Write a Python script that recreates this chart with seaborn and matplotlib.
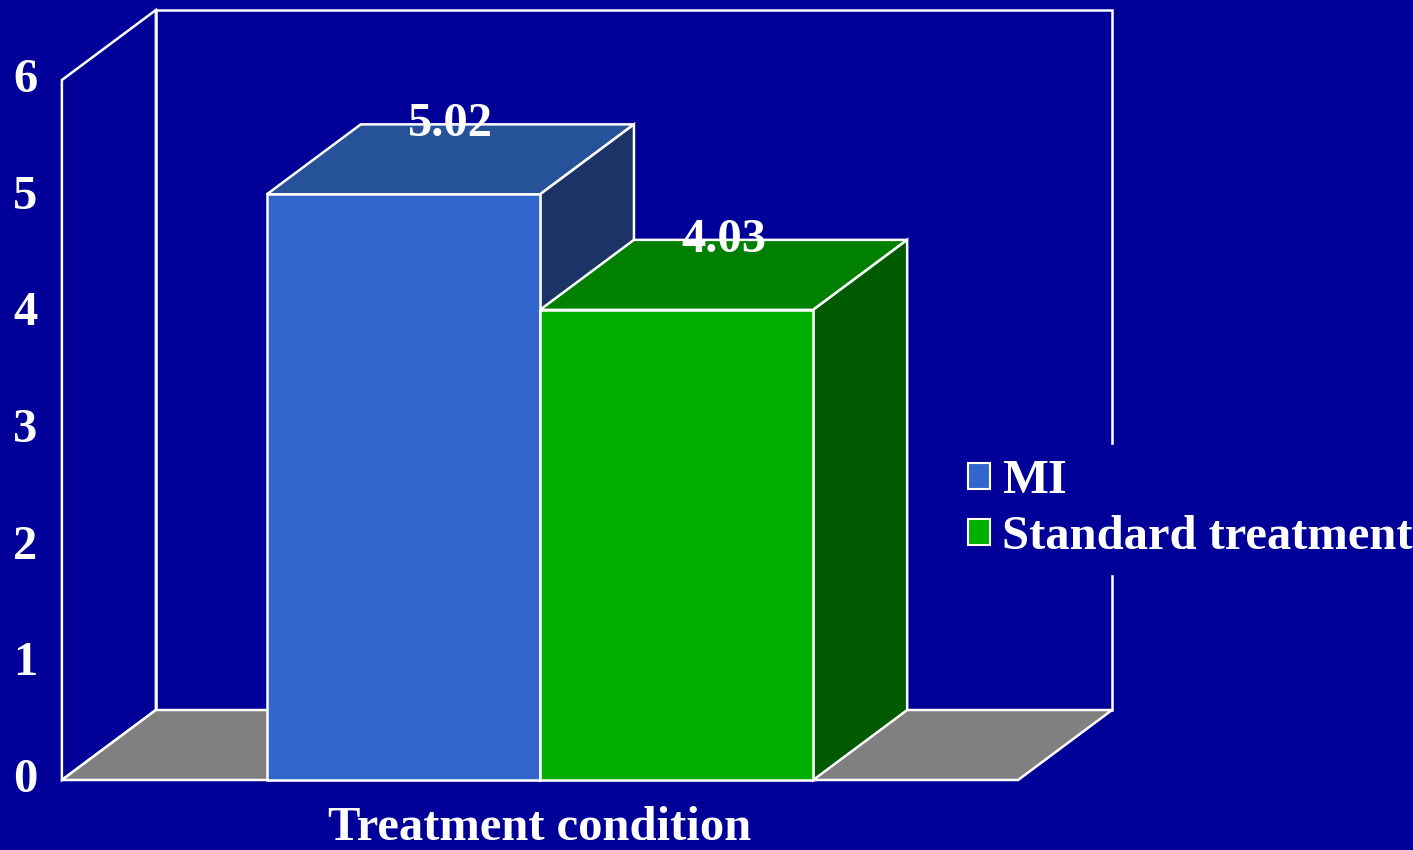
import pandas as pd
import matplotlib.pyplot as plt
import seaborn as sns
from matplotlib.patches import Polygon, Patch

# Data
condition = "Treatment condition"
groups = ["MI", "Standard treatment"]
values = [5.02, 4.03]
y_ticks = [0, 1, 2, 3, 4, 5, 6]

# Colours
bg = "#000099"
front_colors = ["#3366CC", "#00B000"]
top_colors = ["#26529A", "#008000"]
side_colors = ["#1B3366", "#005A00"]
floor_color = "#808080"

df = pd.DataFrame({"condition": [condition] * len(groups), "group": groups, "value": values})

sns.set_style("white")
plt.rcParams["font.family"] = ["Liberation Serif", "DejaVu Serif"]
plt.rcParams["font.weight"] = "bold"

fig = plt.figure(figsize=(14.13, 8.5), dpi=100, facecolor=bg)
ax = fig.add_axes([0, 0, 1, 1])
ax.set_facecolor(bg)

sns.barplot(data=df, x="condition", y="value", hue="group", palette=dict(zip(groups, front_colors)),
            saturation=1, errorbar=None, edgecolor="white", linewidth=1.8, legend=False, ax=ax)

ax.set_xlim(-0.7906, 1.2782)
ax.set_ylim(-0.6, 6.686)

# 3D depth offsets (data units)
dx, dy = 0.1376, 0.6
wall_l, wall_r = -0.7, 0.7
lw = 1.8

# -------------------------------
# Walls and floor
# -------------------------------
ax.add_patch(Polygon([(wall_l + dx, dy), (wall_r + dx, dy), (wall_r + dx, 6 + dy), (wall_l + dx, 6 + dy)],
                     closed=True, facecolor="none", edgecolor="white", lw=lw, zorder=0.5))
ax.add_patch(Polygon([(wall_l, 0), (wall_l, 6), (wall_l + dx, 6 + dy), (wall_l + dx, dy)],
                     closed=True, facecolor=bg, edgecolor="white", lw=lw, zorder=0.6))
ax.add_patch(Polygon([(wall_l, 0), (wall_r, 0), (wall_r + dx, dy), (wall_l + dx, dy)],
                     closed=True, facecolor=floor_color, edgecolor="white", lw=lw, zorder=0.7))

# -------------------------------
# Bars: top and side faces
# -------------------------------
for i, cont in enumerate(ax.containers):
    for bar in cont:
        x0, w, h = bar.get_x(), bar.get_width(), bar.get_height()
        z = 3 + i
        bar.set_zorder(z + 0.2)
        ax.add_patch(Polygon([(x0, h), (x0 + dx, h + dy), (x0 + w + dx, h + dy), (x0 + w, h)],
                             closed=True, facecolor=top_colors[i], edgecolor="white", lw=lw, zorder=z))
        ax.add_patch(Polygon([(x0 + w, 0), (x0 + w, h), (x0 + w + dx, h + dy), (x0 + w + dx, dy)],
                             closed=True, facecolor=side_colors[i], edgecolor="white", lw=lw, zorder=z))
        ax.text(x0 + w / 2 + dx / 2, h + dy, f"{h:.2f}", ha="center", va="center",
                color="white", fontsize=35, fontweight="bold", zorder=10)

# -------------------------------
# Axes text
# -------------------------------
ax.set_yticks(y_ticks)
ax.set_yticklabels([str(t) for t in y_ticks])
ax.tick_params(axis="y", length=0, pad=-27, labelsize=35, labelcolor="white")
ax.tick_params(axis="x", length=0, pad=-31.5, labelsize=35, labelcolor="white")
for lab in ax.get_yticklabels():
    lab.set_verticalalignment("center")
ax.set_xlabel("")
ax.set_ylabel("")
for s in ax.spines.values():
    s.set_visible(False)

handles = [Patch(facecolor=c, edgecolor="white", linewidth=1.5, label=g) for g, c in zip(groups, front_colors)]
ax.legend(handles=handles, loc="center left", bbox_to_anchor=(0.675, 0.401), bbox_transform=fig.transFigure,
          frameon=True, fancybox=False, facecolor=bg, edgecolor=bg, framealpha=1, fontsize=35,
          handlelength=0.45, handleheight=0.45, handletextpad=0.25, labelspacing=0.24,
          borderpad=0.3, borderaxespad=0, labelcolor="white")

fig.savefig("out.png", dpi=100, facecolor=bg)
